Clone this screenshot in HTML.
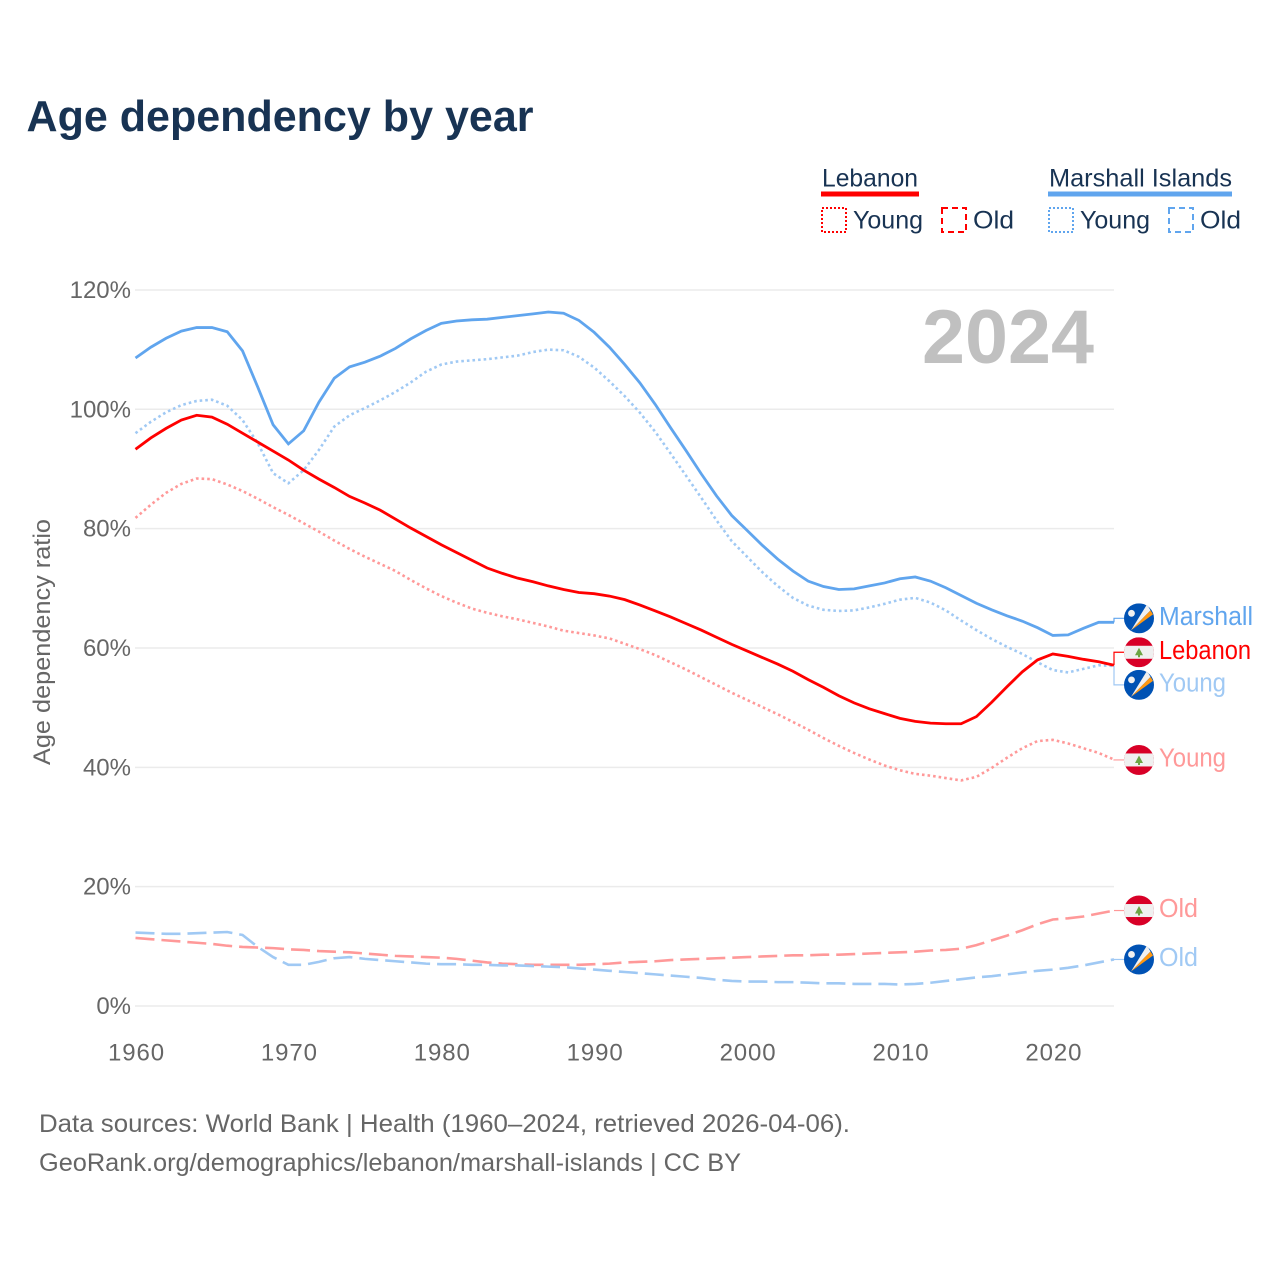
<!DOCTYPE html>
<html lang="en">
<head>
<meta charset="utf-8">
<title>Age dependency by year</title>
<style>
html,body{margin:0;padding:0;background:#fff}
svg{display:block;font-family:"Liberation Sans",sans-serif}
</style>
</head>
<body>
<svg id="chart" xmlns="http://www.w3.org/2000/svg" width="1280" height="1280" viewBox="0 0 1280 1280">
  <defs><clipPath id="flag-clip"><circle cx="0" cy="0" r="15"></circle></clipPath></defs>
  <rect x="0" y="0" width="1280" height="1280" fill="#fff"></rect>
  <text x="26.5" y="131" font-size="44" font-weight="700" fill="#183353" textLength="507" lengthAdjust="spacingAndGlyphs">Age dependency by year</text>

  <g font-size="25" fill="#183353">
    <text x="822" y="186.5" textLength="96" lengthAdjust="spacingAndGlyphs">Lebanon</text>
    <rect x="821" y="191.5" width="98" height="5" fill="#ff0000"></rect>
    <rect x="822" y="208" width="24" height="24" fill="none" stroke="#ff0000" stroke-width="2" stroke-dasharray="2 2"></rect>
    <text x="853" y="228.5" textLength="70" lengthAdjust="spacingAndGlyphs">Young</text>
    <rect x="942" y="208" width="24" height="24" fill="none" stroke="#ff0000" stroke-width="2" stroke-dasharray="6 4"></rect>
    <text x="973" y="228.5" textLength="41" lengthAdjust="spacingAndGlyphs">Old</text>
    <text x="1049" y="186.5" textLength="183" lengthAdjust="spacingAndGlyphs">Marshall Islands</text>
    <rect x="1048" y="191.5" width="184" height="5" fill="#60a5ee"></rect>
    <rect x="1049" y="208" width="24" height="24" fill="none" stroke="#60a5ee" stroke-width="2" stroke-dasharray="2 2"></rect>
    <text x="1080" y="228.5" textLength="70" lengthAdjust="spacingAndGlyphs">Young</text>
    <rect x="1169" y="208" width="24" height="24" fill="none" stroke="#60a5ee" stroke-width="2" stroke-dasharray="6 4"></rect>
    <text x="1200" y="228.5" textLength="41" lengthAdjust="spacingAndGlyphs">Old</text>
  </g>

  <text transform="translate(50,765) rotate(-90)" font-size="24" fill="#666" textLength="246" lengthAdjust="spacingAndGlyphs">Age dependency ratio</text>
  <g id="grid"></g>
  <g id="xticks"></g>
  <text x="922" y="363" font-size="76" font-weight="700" fill="#c0c0c0" textLength="172" lengthAdjust="spacingAndGlyphs">2024</text>
  <g id="lines"></g>
  <g id="labels"></g>

  <g font-size="25" fill="#666">
    <text x="39" y="1132" textLength="811" lengthAdjust="spacingAndGlyphs">Data sources: World Bank | Health (1960–2024, retrieved 2026-04-06).</text>
    <text x="39" y="1171" textLength="702" lengthAdjust="spacingAndGlyphs">GeoRank.org/demographics/lebanon/marshall-islands | CC BY</text>
  </g>
</svg>
<script>
const startYear = 1960;
const xTickYears = [1960, 1970, 1980, 1990, 2000, 2010, 2020];
const yTickValues = [0, 20, 40, 60, 80, 100, 120];

const marshallTotal = [108.6,110.4,111.9,113.1,113.7,113.7,113.0,109.8,103.7,97.4,
  94.2,96.4,101.2,105.2,107.1,107.9,108.9,110.2,111.8,113.2,
  114.4,114.8,115.0,115.1,115.4,115.7,116.0,116.3,116.1,114.9,
  112.9,110.4,107.5,104.4,100.8,96.9,93.1,89.2,85.5,82.2,
  79.7,77.2,74.9,72.9,71.2,70.3,69.8,69.9,70.4,70.9,
  71.6,71.9,71.2,70.1,68.8,67.5,66.4,65.4,64.5,63.4,
  62.1,62.2,63.3,64.3,64.3];
const marshallYoung = [96.0,97.9,99.5,100.7,101.4,101.6,100.6,98.2,94.3,89.3,
  87.6,89.8,93.2,97.1,99.0,100.2,101.5,102.9,104.5,106.3,
  107.5,108.0,108.2,108.4,108.7,109.0,109.6,110.0,109.9,108.8,
  107.0,104.7,102.2,99.4,96.2,92.6,88.9,85.2,81.4,77.9,
  75.3,72.7,70.4,68.4,67.1,66.4,66.2,66.3,66.8,67.4,
  68.1,68.4,67.6,66.3,64.6,63.0,61.5,60.2,59.0,57.6,
  56.3,55.9,56.5,57.1,57.0];
const marshallOld = [12.3,12.2,12.1,12.1,12.2,12.3,12.4,11.9,9.9,8.2,
  6.9,6.9,7.4,8.0,8.2,7.9,7.7,7.5,7.3,7.1,
  7.0,7.0,6.9,6.9,6.8,6.8,6.7,6.6,6.5,6.3,
  6.1,5.9,5.7,5.5,5.3,5.1,4.9,4.7,4.4,4.2,
  4.1,4.1,4.0,4.0,3.9,3.8,3.8,3.7,3.7,3.7,
  3.6,3.7,3.9,4.2,4.5,4.8,5.0,5.3,5.6,5.9,
  6.1,6.4,6.8,7.3,7.8];
const lebanonTotal = [93.3,95.2,96.8,98.2,99.0,98.7,97.5,96.0,94.5,93.0,
  91.5,89.8,88.3,86.9,85.4,84.3,83.1,81.6,80.1,78.7,
  77.3,76.0,74.7,73.4,72.5,71.7,71.1,70.4,69.8,69.3,
  69.1,68.7,68.1,67.2,66.2,65.2,64.1,63.0,61.8,60.6,
  59.5,58.4,57.3,56.1,54.7,53.4,52.0,50.8,49.8,49.0,
  48.2,47.7,47.4,47.3,47.3,48.5,50.9,53.5,56.0,58.0,
  59.0,58.6,58.1,57.7,57.1];
const lebanonYoung = [81.8,84.0,86.0,87.5,88.4,88.3,87.4,86.3,85.0,83.6,
  82.3,80.9,79.5,78.0,76.6,75.3,74.1,72.9,71.4,70.0,
  68.7,67.6,66.6,65.9,65.3,64.8,64.2,63.6,62.9,62.5,
  62.1,61.6,60.7,59.8,58.8,57.6,56.4,55.1,53.8,52.5,
  51.3,50.1,48.9,47.6,46.3,44.9,43.6,42.4,41.3,40.3,
  39.5,38.9,38.6,38.2,37.8,38.4,39.9,41.6,43.2,44.4,
  44.6,44.0,43.2,42.4,41.3];
const lebanonOld = [11.4,11.2,11.0,10.8,10.6,10.4,10.1,9.9,9.8,9.7,
  9.5,9.4,9.2,9.1,9.0,8.8,8.6,8.4,8.3,8.2,
  8.1,7.9,7.6,7.3,7.1,7.0,6.9,6.9,6.9,6.9,
  7.0,7.1,7.3,7.4,7.5,7.7,7.8,7.9,8.0,8.1,
  8.2,8.3,8.4,8.5,8.5,8.6,8.6,8.7,8.8,8.9,
  9.0,9.1,9.3,9.4,9.6,10.2,11.0,11.8,12.7,13.7,
  14.5,14.7,15.0,15.5,16.0];

const SVGNS = 'http://www.w3.org/2000/svg';
const xScale = function (year) { return 135.5 + (year - startYear) * (1114 - 135.5) / 64; };
const yScale = function (v) { return 1006 - v * 5.967; };
const mk = function (tag, parent) {
  const el = document.createElementNS(SVGNS, tag);
  parent.appendChild(el);
  return el;
};
const setA = function (el, attrs) {
  Object.keys(attrs).forEach(function (k) { el.setAttribute(k, attrs[k]); });
  return el;
};

const gridG = document.getElementById('grid');
yTickValues.forEach(function (v) {
  const line = mk('line', gridG);
  
  
  setA(line, { x1: 135, x2: 1114, y1: yScale(v), y2: yScale(v), stroke: '#ebebeb', 'stroke-width': 1.5 });
  const label = mk('text', gridG);
  
  
  setA(label, { x: 131, y: yScale(v) + 8, 'text-anchor': 'end', 'font-size': 24, fill: '#666' });
  label.textContent = v + '%';
});

const xG = document.getElementById('xticks');
xTickYears.forEach(function (yr) {
  const label = mk('text', xG);
  
  
  setA(label, { x: xScale(yr) + 1, y: 1060.5, 'text-anchor': 'middle', 'font-size': 24, fill: '#666', 'letter-spacing': 0.9 });
  label.textContent = yr;
});

const linePath = function (values) {
  return values.map(function (v, i) {
    return (i ? 'L' : 'M') + xScale(startYear + i).toFixed(2) + ' ' + yScale(v).toFixed(2);
  }).join(' ');
};
const linesG = document.getElementById('lines');

const lineOldL = mk('path', linesG);


setA(lineOldL, { d: linePath(lebanonOld), fill: 'none', stroke: '#ff9999', 'stroke-width': 2.6, 'stroke-dasharray': '19 7' });

const lineOldM = mk('path', linesG);


setA(lineOldM, { d: linePath(marshallOld), fill: 'none', stroke: '#a0c9f4', 'stroke-width': 2.6, 'stroke-dasharray': '19 7' });

const lineYoungL = mk('path', linesG);


setA(lineYoungL, { d: linePath(lebanonYoung), fill: 'none', stroke: '#ff9999', 'stroke-width': 2.6, 'stroke-dasharray': '2.6 3' });

const lineYoungM = mk('path', linesG);


setA(lineYoungM, { d: linePath(marshallYoung), fill: 'none', stroke: '#a0c9f4', 'stroke-width': 2.6, 'stroke-dasharray': '2.6 3' });

const lineTotalM = mk('path', linesG);


setA(lineTotalM, { d: linePath(marshallTotal), fill: 'none', stroke: '#60a5ee', 'stroke-width': 2.8 });

const lineTotalL = mk('path', linesG);


setA(lineTotalL, { d: linePath(lebanonTotal), fill: 'none', stroke: '#ff0000', 'stroke-width': 2.8 });

const labelsG = document.getElementById('labels');

function drawLebanonFlag(g) {
  const clip = mk('g', g);
  clip.setAttribute('clip-path', 'url(#flag-clip)');
  setA(mk('rect', clip), { x: -15, y: -15, width: 30, height: 30, fill: '#d80027' });
  setA(mk('rect', clip), { x: -15, y: -6.5, width: 30, height: 13, fill: '#f0f0f0' });
  setA(mk('polygon', clip), { points: '0,-4.5 4,3 1,3 1,5 -1,5 -1,3 -4,3', fill: '#6da544' });
}
function drawMarshallFlag(g) {
  const clip = mk('g', g);
  clip.setAttribute('clip-path', 'url(#flag-clip)');
  setA(mk('rect', clip), { x: -15, y: -15, width: 30, height: 30, fill: '#0052b4' });
  setA(mk('polygon', clip), { points: '-8,12 8,-14 11.5,-8', fill: '#f0f0f0' });
  setA(mk('polygon', clip), { points: '-8,12 11.5,-8 14,-4', fill: '#ff9811' });
  setA(mk('circle', clip), { cx: -7.5, cy: -5, r: 3.4, fill: '#f0f0f0' });
}
function connector(g, endY, flagY, color, flagX) {
  const d = 'M1114 ' + endY.toFixed(2) + ' L1114 ' + flagY.toFixed(2) + ' L' + flagX + ' ' + flagY.toFixed(2);
  setA(g, { d: d, fill: 'none', stroke: color, 'stroke-width': 1.2 });
}
function placeFlag(g, y) { g.setAttribute('transform', 'translate(1139,' + y.toFixed(2) + ')'); }
function placeText(t, y, color) { setA(t, { x: 1159, y: (y + 6.5).toFixed(2), 'font-size': 25.5, fill: color }); }

/* Marshall total */
let yEnd = yScale(marshallTotal[marshallTotal.length - 1]);
let yFlag = yEnd - 4;
const connMT = mk('path', labelsG);


connector(connMT, yEnd, yFlag, '#60a5ee', 1124);
const flagMT = mk('g', labelsG);


placeFlag(flagMT, yFlag);
drawMarshallFlag(flagMT);
const textMT = mk('text', labelsG);


placeText(textMT, yFlag, '#60a5ee');
textMT.setAttribute('textLength', '94');
textMT.setAttribute('lengthAdjust', 'spacingAndGlyphs');
textMT.textContent = 'Marshall';

/* Lebanon total */
yEnd = yScale(lebanonTotal[lebanonTotal.length - 1]);
yFlag = yEnd - 13;
const connLT = mk('path', labelsG);


connector(connLT, yEnd, yFlag, '#ff0000', 1124);
const flagLT = mk('g', labelsG);


placeFlag(flagLT, yFlag);
drawLebanonFlag(flagLT);
const textLT = mk('text', labelsG);


placeText(textLT, yFlag, '#ff0000');
textLT.setAttribute('textLength', '92');
textLT.setAttribute('lengthAdjust', 'spacingAndGlyphs');
textLT.textContent = 'Lebanon';

/* Marshall young */
yEnd = yScale(marshallYoung[marshallYoung.length - 1]);
yFlag = yEnd + 19;
const connMY = mk('path', labelsG);


connector(connMY, yEnd, yFlag, '#a0c9f4', 1124);
const flagMY = mk('g', labelsG);


placeFlag(flagMY, yFlag);
drawMarshallFlag(flagMY);
const textMY = mk('text', labelsG);


placeText(textMY, yFlag, '#a0c9f4');
textMY.setAttribute('textLength', '67');
textMY.setAttribute('lengthAdjust', 'spacingAndGlyphs');
textMY.textContent = 'Young';

/* Lebanon young */
yEnd = yScale(lebanonYoung[lebanonYoung.length - 1]);
yFlag = yEnd + 0.4;
const connLY = mk('path', labelsG);


connector(connLY, yEnd, yFlag, '#ff9999', 1124);
const flagLY = mk('g', labelsG);


placeFlag(flagLY, yFlag);
drawLebanonFlag(flagLY);
const textLY = mk('text', labelsG);


placeText(textLY, yFlag, '#ff9999');
textLY.setAttribute('textLength', '67');
textLY.setAttribute('lengthAdjust', 'spacingAndGlyphs');
textLY.textContent = 'Young';

/* Lebanon old */
yEnd = yScale(lebanonOld[lebanonOld.length - 1]);
yFlag = yEnd;
const connLO = mk('path', labelsG);


connector(connLO, yEnd, yFlag, '#ff9999', 1124);
const flagLO = mk('g', labelsG);


placeFlag(flagLO, yFlag);
drawLebanonFlag(flagLO);
const textLO = mk('text', labelsG);


placeText(textLO, yFlag, '#ff9999');
textLO.setAttribute('textLength', '39');
textLO.setAttribute('lengthAdjust', 'spacingAndGlyphs');
textLO.textContent = 'Old';

/* Marshall old */
yEnd = yScale(marshallOld[marshallOld.length - 1]);
yFlag = yEnd;
const connMO = mk('path', labelsG);


connector(connMO, yEnd, yFlag, '#a0c9f4', 1124);
const flagMO = mk('g', labelsG);


placeFlag(flagMO, yFlag);
drawMarshallFlag(flagMO);
const textMO = mk('text', labelsG);


placeText(textMO, yFlag, '#a0c9f4');
textMO.setAttribute('textLength', '39');
textMO.setAttribute('lengthAdjust', 'spacingAndGlyphs');
textMO.textContent = 'Old';
</script>
</body>
</html>
